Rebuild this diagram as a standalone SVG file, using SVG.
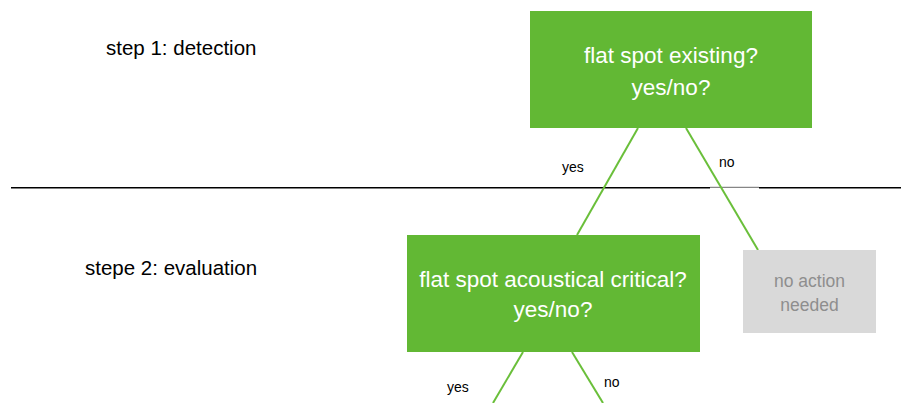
<svg xmlns="http://www.w3.org/2000/svg" width="901" height="403" viewBox="0 0 901 403">
<style>
  .t { font-family: "Liberation Sans", Arial, sans-serif; }
  .box { fill: #62b834; }
  .grey { fill: #d9d9d9; }
  .boxtxt { fill: #ffffff; font-size: 22.5px; text-anchor: middle; }
  .greytxt { fill: #8e8e8e; font-size: 17.5px; text-anchor: middle; }
  .step { fill: #000000; font-size: 20.5px; }
  .lbl { fill: #000000; font-size: 14px; }
  .conn { stroke: #6abf3a; stroke-width: 2; fill: none; }
  .sep { stroke: #000000; stroke-width: 1.6; }
</style>
<rect width="901" height="403" fill="#ffffff"/>
<g id="separator">
  <line class="sep" x1="11" y1="187.7" x2="710" y2="187.7"/>
  <line x1="710" y1="187.3" x2="759" y2="187.3" stroke="#000" stroke-width="0.6"/>
  <line class="sep" x1="759" y1="187.7" x2="901" y2="187.7"/>
</g>
<g id="step-labels">
  <text class="t step" x="106" y="55">step 1: detection</text>
  <text class="t step" x="85" y="275">stepe 2: evaluation</text>
</g>
<g id="connectors">
  <line class="conn" x1="638" y1="128" x2="577" y2="235"/>
  <line class="conn" x1="686" y1="128" x2="758" y2="250"/>
  <line class="conn" x1="523" y1="352" x2="493" y2="403"/>
  <line class="conn" x1="572" y1="352" x2="603" y2="403"/>
  <text class="t lbl" x="562" y="171.5">yes</text>
  <text class="t lbl" x="719" y="167">no</text>
  <text class="t lbl" x="447" y="392">yes</text>
  <text class="t lbl" x="604" y="387">no</text>
</g>
<g id="node-detection">
  <rect class="box" x="530" y="11" width="282" height="117"/>
  <text class="t boxtxt" x="671" y="63">flat spot existing?</text>
  <text class="t boxtxt" x="671" y="95">yes/no?</text>
</g>
<g id="node-evaluation">
  <rect class="box" x="407" y="235" width="293" height="117"/>
  <text class="t boxtxt" x="553" y="287">flat spot acoustical critical?</text>
  <text class="t boxtxt" x="553" y="317">yes/no?</text>
</g>
<g id="node-no-action">
  <rect class="grey" x="743" y="250" width="133" height="83"/>
  <text class="t greytxt" x="809.5" y="287">no action</text>
  <text class="t greytxt" x="809.5" y="311">needed</text>
</g>
</svg>
